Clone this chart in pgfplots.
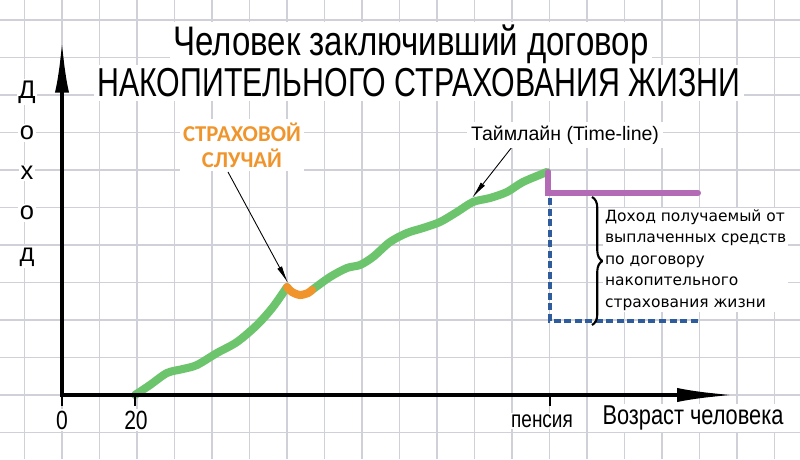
\documentclass[border=0pt]{standalone}
\usepackage{pgfplots}
\pgfplotsset{compat=1.18}
\usepackage{fontspec}
\usetikzlibrary{arrows.meta,decorations.pathreplacing}
\setmainfont{Liberation Sans}
\newfontfamily\cond[FakeStretch=0.8]{Liberation Sans}
\newfontfamily\condt[FakeStretch=0.75]{Liberation Sans}
\newfontfamily\carl{Carlito}
\newfontfamily\dejavu{DejaVu Sans}
\definecolor{gridc}{HTML}{D0D0D8}
\definecolor{lgreen}{HTML}{6CC46C}
\definecolor{lorange}{HTML}{F0942C}
\definecolor{lpurple}{HTML}{B36BB5}
\definecolor{dblue}{HTML}{2F5C9C}
\begin{document}
\begin{tikzpicture}
\begin{axis}[
  scale only axis, width=16cm, height=9.18cm,
  xmin=0, xmax=800, ymin=0, ymax=459,
  axis line style={draw=none}, clip=false,
  xtick={24.5,62,...,800}, ytick={26.5,64,...,459},
  xticklabels={}, yticklabels={}, major tick length=0pt,
  grid=major, grid style={gridc, line width=1.1pt},
]
% income curve (pixel coordinates, y up)
\addplot[lgreen, line width=4.6pt, smooth, line cap=round] coordinates {
(135,64) (150,74) (167,86) (183,90) (197,94) (217,106) (237,117) (257,134) (273,152) (287,172)};
\addplot[lgreen, line width=4.6pt, smooth, line cap=round] coordinates {
(312,169) (330,182) (347,191) (360,194) (373,202) (390,217) (407,226) (423,231) (440,237)
(457,247) (473,257) (490,261) (507,267) (523,277) (547,287)};
\addplot[lorange, line width=4.6pt, smooth, line cap=round] coordinates {
(287,172) (292,167) (300,164) (308,166) (312,169)};
\addplot[lpurple, line width=3.4pt, line cap=round] coordinates {(548,287) (548,266) (698,266)};
\addplot[dblue, line width=1.8pt, dash pattern=on 4pt off 2pt] coordinates {(550,261) (550,138) (698,138)};

% axes
\draw[line width=2.3pt,-{Latex[length=30pt,width=8pt]}] (62,62) -- (62,419);
\draw[line width=2.3pt,-{Latex[length=33pt,width=8pt]}] (61,64) -- (735,64);
\draw[line width=1.2pt] (62,64) -- (62,53);
\draw[line width=1.2pt] (135,64) -- (135,53);
\draw[line width=1.2pt] (550,64) -- (550,53);
\node[fill=white, inner sep=1pt, font=\cond\fontsize{15}{15}\selectfont] at (62,39) {0};
\node[fill=white, inner sep=1pt, font=\cond\fontsize{15}{15}\selectfont] at (136,39) {20};
\node[fill=white, inner sep=1pt, font=\cond\fontsize{13.5}{13.5}\selectfont] at (542,38) {пенсия};
\node[fill=white, inner sep=1pt, font=\cond\fontsize{15.5}{15.5}\selectfont] at (693,41) {Возраст человека};

\node[fill=white, inner sep=1pt, font=\fontsize{14.5}{14.5}\selectfont] at (27,367) {Д};
\node[fill=white, inner sep=1pt, font=\fontsize{14.5}{14.5}\selectfont] at (27,326) {о};
\node[fill=white, inner sep=1pt, font=\fontsize{14.5}{14.5}\selectfont] at (27,286) {х};
\node[fill=white, inner sep=1pt, font=\fontsize{14.5}{14.5}\selectfont] at (27,246) {о};
\node[fill=white, inner sep=1pt, font=\fontsize{14.5}{14.5}\selectfont] at (27,202) {д};

% title
\node[fill=white, inner sep=2pt, anchor=base, font=\cond\fontsize{23.5}{23.5}\selectfont] at (411,403) {Человек заключивший договор};
\node[fill=white, inner sep=2pt, anchor=base, font=\condt\fontsize{23}{23}\selectfont] at (419,362) {НАКОПИТЕЛЬНОГО СТРАХОВАНИЯ ЖИЗНИ};

% annotations
\draw[line width=0.5pt, -{Latex[length=10pt,width=3pt]}] (228,287) -- (288,176);
\node[fill=white, inner sep=2pt, align=center, text=lorange, font=\carl\bfseries\fontsize{12.9}{14.9}\selectfont] at (242,314) {СТРАХОВОЙ\\СЛУЧАЙ};
\draw[line width=0.5pt, -{Latex[length=10pt,width=3pt]}] (512,312) -- (472,261);
\node[fill=white, inner sep=2pt, font=\fontsize{11.1}{11.1}\selectfont] at (565,324) {Таймлайн (Time-line)};
\draw[line width=1.2pt, decorate, decoration={brace, amplitude=6pt}] (592,262) -- (592,134);
\node[fill=white, inner sep=1pt, anchor=west, align=left, font=\dejavu\fontsize{8.8}{12.3}\selectfont] at (603,199)
  {Доход получаемый от\\выплаченных средств\\по договору\\накопительного\\страхования жизни};
\end{axis}
\pgfresetboundingbox
\path (current axis.south west) rectangle (current axis.north east);
\end{tikzpicture}
\end{document}
